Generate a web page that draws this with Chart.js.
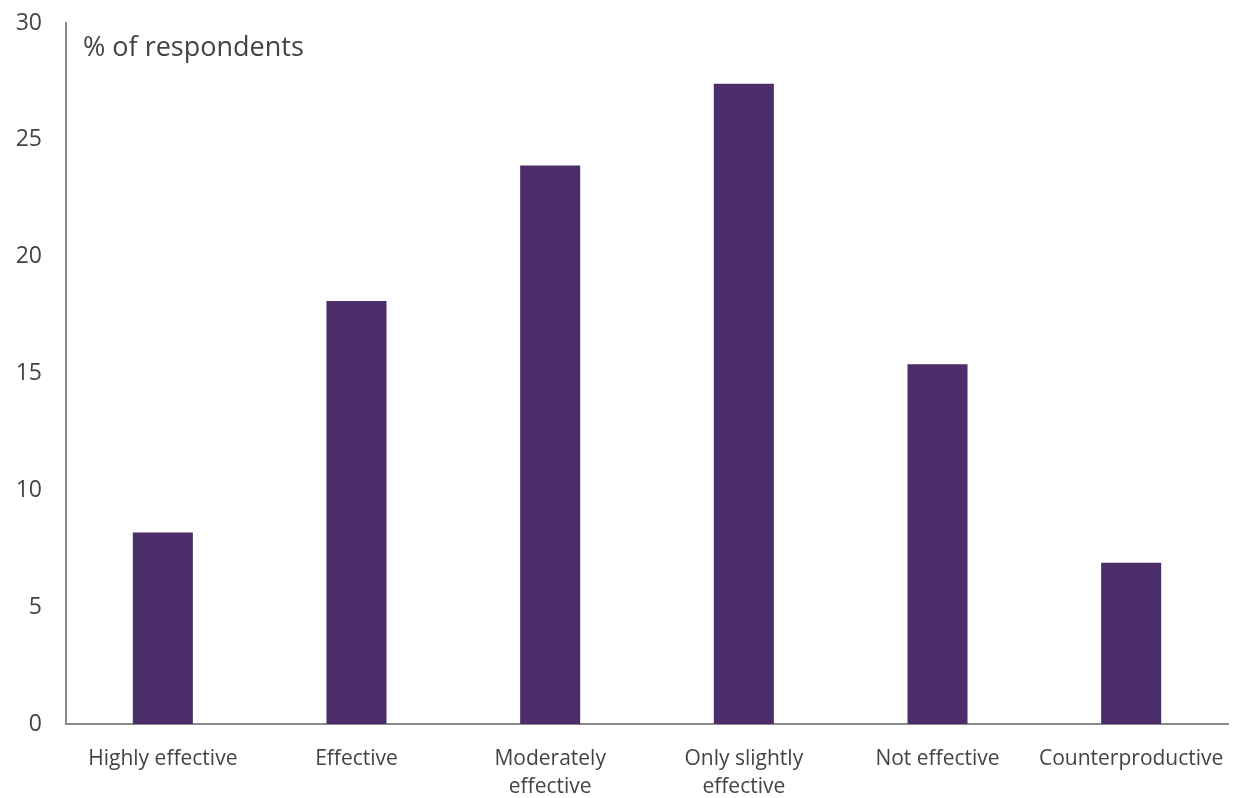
<!DOCTYPE html>
<html lang="en">
<head>
  <meta charset="UTF-8" />
  <title>Effectiveness</title>
  <script src="https://cdn.jsdelivr.net/npm/chart.js"></script>
<style>
  body {
    margin: 0;
    background-color: white;
  }
  #wrap {
    width: 1235px;
    height: 798px;
  }
</style>
</head>
<body>
  <div id="wrap">
    <canvas id="chart"></canvas>
  </div>

  <script>
    const categories = [
      "Highly effective",
      "Effective",
      ["Moderately", "effective"],
      ["Only slightly", "effective"],
      "Not effective",
      "Counterproductive"
    ];
    const respondents = [8.2, 18.1, 23.9, 27.4, 15.4, 6.9];
    const yTicks = [0, 5, 10, 15, 20, 25, 30];
    const unitLabel = "% of respondents";

    // label inside the plot, top left
    const unitText = {
      id: "unitText",
      afterDraw(chart) {
        const ctx = chart.ctx;
        ctx.save();
        ctx.font = "27px 'Open Sans'";
        ctx.fillStyle = "#444";
        ctx.textBaseline = "middle";
        ctx.fillText(unitLabel, chart.chartArea.left + 17, chart.chartArea.top + 25);
        ctx.restore();
      }
    };

    new Chart(document.getElementById("chart"), {
      type: "bar",
      data: {
        labels: categories,
        datasets: [{
          data: respondents,
          backgroundColor: "#4b2d6a",
          categoryPercentage: 1,
          barPercentage: 0.31
        }]
      },
      options: {
        responsive: true,
        maintainAspectRatio: false,
        animation: false,
        layout: { padding: { top: 23, right: 7, left: 0, bottom: 0 } },
        plugins: {
          legend: { display: false },
          tooltip: { enabled: false }
        },
        scales: {
          x: {
            grid: { display: false, drawTicks: false },
            border: { color: "#8a8a8a", width: 2 },
            ticks: {
              color: "#444",
              font: { family: "'Open Sans'", size: 21, lineHeight: 1.33 },
              padding: 21,
              maxRotation: 0,
              autoSkip: false
            },
            afterFit(scale) {
              scale.height = 74;
              scale.paddingLeft = 0;
              scale.paddingRight = 0;
            }
          },
          y: {
            min: 0,
            max: 30,
            afterBuildTicks(scale) {
              scale.ticks = yTicks.map(v => ({ value: v }));
            },
            grid: { display: false, drawTicks: false },
            border: { color: "#8a8a8a", width: 2 },
            ticks: {
              color: "#444",
              font: { family: "'Open Sans'", size: 23 },
              padding: 24
            },
            afterFit(scale) {
              scale.width = 66;
              scale.paddingTop = 0;
              scale.paddingBottom = 0;
            }
          }
        }
      },
      plugins: [unitText]
    });
  </script>
</body>
</html>
